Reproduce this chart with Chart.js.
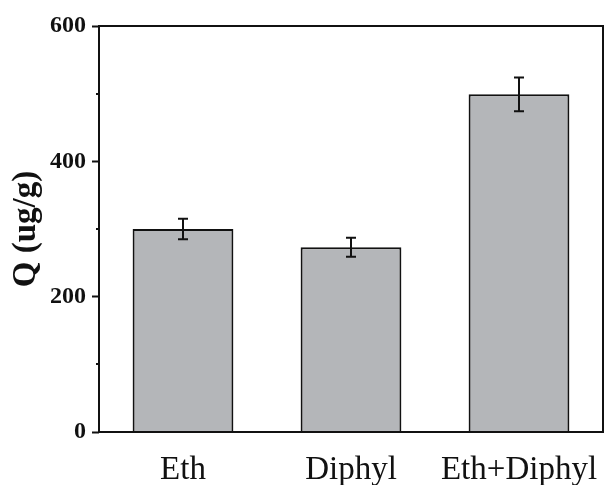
<!DOCTYPE html>
<html>
<head>
<meta charset="utf-8">
<script src="https://cdn.jsdelivr.net/npm/chart.js@4/dist/chart.umd.min.js"></script>
<style>
  html, body { margin: 0; padding: 0; background: #fff; }
  #wrap { width: 612px; height: 485px; position: relative; }
</style>
</head>
<body>
<div id="wrap"><canvas id="c" width="612" height="485"></canvas></div>
<script>
const categories = ["Eth", "Diphyl", "Eth+Diphyl"];
const qValues = [300, 273, 499];
const qErrors = [15, 14, 25];
const majorTicks = [0, 200, 400, 600];
const minorTicks = [100, 300, 500];

const FONT = '"Liberation Serif", "Times New Roman", serif';

const errorBarPlugin = {
  id: 'errorBars',
  afterDatasetsDraw(chart) {
    const ctx = chart.ctx;
    const meta = chart.getDatasetMeta(0);
    const y = chart.scales.y;
    ctx.save();
    ctx.strokeStyle = '#111';
    ctx.lineWidth = 2;
    meta.data.forEach((bar, i) => {
      const x = bar.x;
      const yTop = y.getPixelForValue(qValues[i] + qErrors[i]);
      const yBot = y.getPixelForValue(qValues[i] - qErrors[i]);
      ctx.beginPath();
      ctx.moveTo(x, yTop); ctx.lineTo(x, yBot);
      ctx.moveTo(x - 5, yTop); ctx.lineTo(x + 5, yTop);
      ctx.moveTo(x - 5, yBot); ctx.lineTo(x + 5, yBot);
      ctx.stroke();
    });
    ctx.restore();
  }
};

const framePlugin = {
  id: 'frame',
  afterDraw(chart) {
    const ctx = chart.ctx;
    const a = chart.chartArea;
    const y = chart.scales.y;
    ctx.save();
    ctx.strokeStyle = '#111';
    ctx.lineWidth = 2;
    ctx.strokeRect(a.left, a.top, a.right - a.left, a.bottom - a.top);
    ctx.beginPath();
    minorTicks.forEach(v => {
      const py = Math.round(y.getPixelForValue(v));
      ctx.moveTo(a.left - 3, py); ctx.lineTo(a.left, py);
    });
    ctx.stroke();
    ctx.restore();
  }
};

new Chart(document.getElementById('c'), {
  type: 'bar',
  data: {
    labels: categories,
    datasets: [{
      data: qValues,
      backgroundColor: '#b4b6b9',
      borderColor: '#111',
      borderWidth: 2,
      barPercentage: 0.6,
      categoryPercentage: 1.0
    }]
  },
  options: {
    responsive: false,
    animation: false,
    devicePixelRatio: 1,
    layout: { padding: { left: 0, right: 9, top: 26, bottom: 0 } },
    plugins: { legend: { display: false }, tooltip: { enabled: false } },
    scales: {
      x: {
        grid: { display: false },
        border: { display: false },
        ticks: {
          color: '#111',
          font: { family: FONT, size: 33 },
          padding: 11,
          maxRotation: 0
        },
        afterFit(s) { s.height = 53; }
      },
      y: {
        min: 0,
        max: 600,
        afterBuildTicks(s) { s.ticks = majorTicks.map(v => ({ value: v })); },
        grid: {
          drawOnChartArea: false,
          drawTicks: true,
          tickLength: 7,
          tickWidth: 2,
          tickColor: '#111'
        },
        border: { display: false },
        ticks: {
          color: '#111',
          font: { family: FONT, size: 24, weight: 'bold' },
          padding: 6
        },
        title: {
          display: true,
          text: 'Q (ug/g)',
          color: '#111',
          font: { family: FONT, size: 33, weight: 'bold' },
          padding: { top: 7, bottom: 0 }
        },
        afterFit(s) { s.width = 99; }
      }
    }
  },
  plugins: [errorBarPlugin, framePlugin]
});
</script>
</body>
</html>
